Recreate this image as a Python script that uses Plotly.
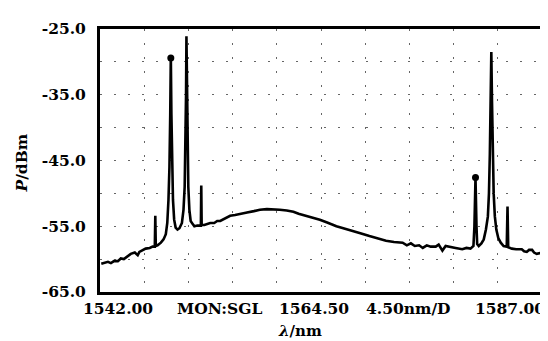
import plotly.graph_objects as go

# Spectrum trace (wavelength in nm, power in dBm)
spectrum = [
    (1542.13, -60.7), (1542.40, -60.6), (1542.81, -60.4), (1543.11, -60.6), (1543.42, -60.3),
    (1543.82, -60.3), (1544.12, -59.9), (1544.43, -60.0), (1544.83, -59.5), (1545.13, -59.2),
    (1545.54, -59.0), (1545.84, -59.4), (1546.01, -58.9), (1546.35, -58.6), (1546.65, -58.4),
    (1547.06, -58.3), (1547.36, -58.1), (1547.58, -58.1), (1547.63, -53.4), (1547.68, -58.0),
    (1547.86, -57.9), (1548.20, -57.5), (1548.47, -57.0), (1548.70, -56.2), (1548.85, -54.5),
    (1548.97, -51.0), (1549.07, -46.0), (1549.15, -38.0), (1549.21, -29.0), (1549.27, -38.0),
    (1549.34, -46.0), (1549.43, -51.0), (1549.55, -54.0), (1549.70, -55.2), (1549.89, -55.5),
    (1550.09, -55.3), (1550.34, -54.5), (1550.50, -52.5), (1550.62, -49.0), (1550.70, -43.0),
    (1550.76, -35.0), (1550.80, -26.1), (1550.85, -35.0), (1550.91, -43.0), (1550.99, -49.0),
    (1551.10, -52.5), (1551.23, -54.2), (1551.40, -54.6), (1551.61, -55.0), (1551.91, -54.9),
    (1552.27, -54.9), (1552.31, -48.8), (1552.35, -54.8), (1552.62, -54.8), (1552.92, -54.7),
    (1553.22, -54.5), (1553.63, -54.5), (1553.93, -54.2), (1554.24, -54.2), (1554.74, -53.8),
    (1555.25, -53.4), (1555.75, -53.3), (1556.26, -53.1), (1556.97, -52.9), (1557.67, -52.7),
    (1558.28, -52.5), (1558.99, -52.4), (1559.60, -52.4), (1560.30, -52.5), (1561.01, -52.6),
    (1561.69, -52.8), (1562.22, -53.1), (1562.70, -53.3), (1563.34, -53.6), (1563.84, -53.8),
    (1564.38, -54.0), (1565.06, -54.4), (1565.56, -54.7), (1566.07, -55.0), (1566.77, -55.3),
    (1567.76, -55.7), (1568.59, -56.1), (1569.43, -56.5), (1570.31, -56.9), (1571.12, -57.2),
    (1571.93, -57.4), (1572.81, -57.5), (1573.24, -57.9), (1573.65, -57.6), (1574.05, -58.0),
    (1574.49, -57.9), (1574.86, -58.3), (1575.27, -57.9), (1575.67, -58.1), (1576.18, -58.1),
    (1576.48, -57.8), (1576.86, -58.7), (1577.19, -58.0), (1577.70, -58.2), (1578.20, -58.3),
    (1578.88, -58.5), (1579.31, -58.3), (1579.72, -58.4), (1580.02, -58.0), (1580.12, -55.0),
    (1580.23, -47.6), (1580.33, -55.0), (1580.40, -57.7), (1580.56, -58.0), (1580.83, -57.6),
    (1581.07, -57.0), (1581.29, -55.5), (1581.49, -53.5), (1581.60, -50.0), (1581.69, -44.0),
    (1581.77, -36.0), (1581.84, -28.5), (1581.91, -36.0), (1581.99, -44.0), (1582.08, -50.0),
    (1582.20, -53.5), (1582.35, -55.5), (1582.55, -56.8), (1582.80, -57.5), (1583.09, -58.0),
    (1583.41, -58.1), (1583.49, -52.0), (1583.56, -58.2), (1583.93, -58.4), (1584.37, -58.5),
    (1584.94, -58.5), (1585.18, -58.8), (1585.45, -58.9), (1585.68, -58.6), (1585.99, -58.6),
    (1586.19, -59.0), (1586.46, -59.2), (1586.79, -59.1), (1587.00, -59.2),
]
wavelength = [p[0] for p in spectrum]
power = [p[1] for p in spectrum]

# Peak-top markers shown by the instrument
marker_wavelength = [1549.21, 1580.23]
marker_power = [-29.4, -47.6]

# Axis settings
x_min, x_max, x_div = 1542.0, 1587.0, 4.5
y_ticks = [-25.0, -35.0, -45.0, -55.0, -65.0]
y_tick_labels = ["-25.0", "-35.0", "-45.0", "-55.0", "-65.0"]
x_grid = [x_min + x_div * i for i in range(11)]

# Instrument labels below the axis
x_label_texts = ["1542.00", "MON:SGL", "1564.50", "4.50nm/D", "1587.00"]
x_label_pos = [1543.87, 1554.13, 1563.79, 1573.45, 1583.75]

FONT = "DejaVu Serif"
FS = 15.5

fig = go.Figure()
fig.add_trace(go.Scatter(
    x=wavelength, y=power, mode="lines",
    line=dict(color="black", width=2.6), hoverinfo="skip", showlegend=False,
))
fig.add_trace(go.Scatter(
    x=marker_wavelength, y=marker_power, mode="markers",
    marker=dict(color="black", size=7, symbol="circle"), showlegend=False,
))

grid_dash = "2px,12px"
grid_col = "#666"
fig.update_xaxes(
    range=[x_min, x_max], tickmode="array", tickvals=x_grid, showticklabels=False,
    ticks="", showgrid=True, gridcolor=grid_col, gridwidth=1, griddash=grid_dash,
    showline=True, mirror=True, linecolor="black", linewidth=3, zeroline=False,
)
fig.update_yaxes(
    range=[-65, -25], tickmode="array", tickvals=y_ticks, ticktext=y_tick_labels,
    ticks="", ticklabelstandoff=8,
    tickfont=dict(family=FONT, size=FS, color="black", weight="bold"),
    showgrid=True, gridcolor=grid_col, gridwidth=1, griddash=grid_dash,
    minor=dict(dtick=5, tick0=-65, showgrid=True, gridcolor=grid_col, gridwidth=1, griddash=grid_dash, ticks=""),
    showline=True, mirror=True, linecolor="black", linewidth=3, zeroline=False,
)

annotations = []
for t, xp in zip(x_label_texts, x_label_pos):
    annotations.append(dict(
        x=xp, y=0, xref="x", yref="paper", text=t, showarrow=False,
        xanchor="center", yanchor="middle", yshift=-16,
        font=dict(family=FONT, size=FS, color="black", weight="bold"),
    ))
annotations.append(dict(
    x=0.5, y=0, xref="paper", yref="paper", text="<i>λ</i>/nm", showarrow=False,
    xanchor="center", yanchor="middle", xshift=-21, yshift=-39,
    font=dict(family=FONT, size=15, color="black", weight="bold"),
))
annotations.append(dict(
    x=0, y=0.5, xref="paper", yref="paper", text="<i>P</i>/dBm", showarrow=False,
    textangle=-90, xanchor="center", yanchor="middle", xshift=-79, yshift=-3,
    font=dict(family=FONT, size=FS, color="black", weight="bold"),
))

fig.update_layout(
    width=548, height=341,
    margin=dict(l=92, r=11, t=15, b=57),
    paper_bgcolor="white", plot_bgcolor="white",
    annotations=annotations, showlegend=False,
)

fig.write_html("out.html")
